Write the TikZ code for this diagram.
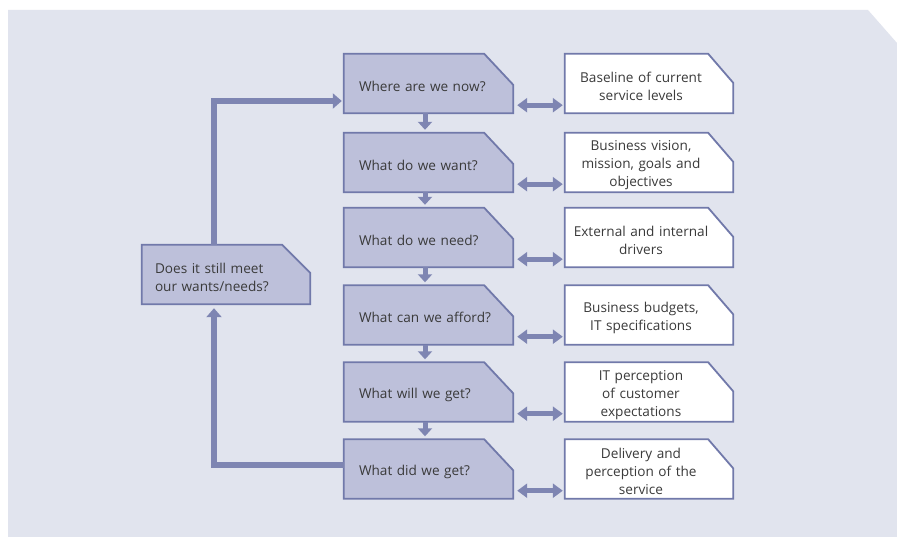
\documentclass[tikz,border=0pt]{standalone}
\usepackage{fontspec}
\setmainfont{Open Sans}
\usetikzlibrary{arrows.meta,backgrounds,calc}

\definecolor{panel}{HTML}{E1E4EE}
\definecolor{boxfill}{HTML}{BDC0DA}
\definecolor{boxedge}{HTML}{7179AA}
\definecolor{flowcol}{HTML}{7E85B2}
\definecolor{shade}{HTML}{C9CCDE}
\definecolor{ink}{HTML}{3A3A3A}

% outline of a box with its top right corner cut off
% #1 node, #2 extra width on the right, #3 cut width, #4 cut height
\newcommand\cutoutline[4]{(#1.south west) -- (#1.north west)
  -- ($(#1.north east)+(#2-#3,0)$) -- ($(#1.north east)+(#2,#4)$)
  -- ($(#1.south east)+(#2,0)$) -- cycle}
% shadow plus framed, filled box
\newcommand\cutbox[5]{%
  \fill[shade,shift={(2,2)}] \cutoutline{#1}{#3}{#4}{#5};
  \draw[frame,fill=#2] \cutoutline{#1}{#3}{#4}{#5};}

\begin{document}
\begin{tikzpicture}[x=1pt,y=-1pt,
  every node/.style={font=\fontsize{13.6}{18}\selectfont, text=ink,
    execute at begin node={\rule{0pt}{16pt}}},
  stage/.style={inner xsep=15pt, inner ysep=0pt, text width=139pt,
    align=left, minimum height=59pt},
  source/.style={inner xsep=0pt, inner ysep=0pt, text width=152pt,
    align=center, minimum height=59pt},
  check/.style={inner xsep=13pt, inner ysep=0pt, text width=142pt,
    align=left, minimum height=59pt},
  frame/.style={draw=boxedge, line width=1.8pt, line join=miter},
  loopline/.style={draw=flowcol, line width=6pt,
    -{Triangle[width=15pt,length=9pt]}},
  down/.style={draw=flowcol, line width=5pt,
    -{Triangle[width=14pt,length=8pt]}, shorten >=3pt},
  link/.style={draw=flowcol, line width=5pt,
    {Triangle[width=14pt,length=10pt]}-{Triangle[width=14pt,length=10pt]},
    shorten <=4pt, shorten >=2pt}
]
\useasboundingbox (0,0) rectangle (897,537);

% questions asked in turn
\node[stage] (b1) at (428.5,83.5)  {Where are we now?};
\node[stage] (b2) at (428.5,162.5) {What do we want?};
\node[stage] (b3) at (428.5,237.5) {What do we need?};
\node[stage] (b4) at (428.5,315)   {What can we afford?};
\node[stage] (b5) at (428.5,392)   {What will we get?};
\node[stage] (b6) at (428.5,469)   {What did we get?};

% where each answer comes from
\node[source] (r1) at (641,83.5)  {Baseline of current\\service levels};
\node[source] (r2) at (641,162.5) {Business vision,\\mission, goals and\\objectives};
\node[source] (r3) at (641,237.5) {External and internal\\drivers};
\node[source] (r4) at (641,315)   {Business budgets,\\IT specifications};
\node[source] (r5) at (641,392)   {IT perception\\of customer\\expectations};
\node[source] (r6) at (641,469)   {Delivery and\\perception of the\\service};

% review step closing the loop
\node[check] (bd) at (226,274.5) {Does it still meet\\our wants/needs?};

\begin{pgfonlayer}{background}
  \fill[white] (0,0) rectangle (897,537);
  \fill[panel] (8,10) -- (868,10) -- (897,43) -- (897,537) -- (8,537) -- cycle;
  \foreach \n in {b1,b2,b3,b4,b5,b6}{\cutbox{\n}{boxfill}{0}{29}{31}}
  \foreach \n in {r1,r2,r3,r4,r5,r6}{\cutbox{\n}{white}{16}{25}{29}}
  \cutbox{bd}{boxfill}{0}{28}{28}
\end{pgfonlayer}

% downward steps
\foreach \a/\b in {b1/b2,b2/b3,b3/b4,b4/b5,b5/b6}
  \draw[down] ([xshift=-3.5pt]\a.south) -- ([xshift=-3.5pt]\b.north);

% two-way links to the sources
\foreach \i in {1,...,6}
  \draw[link] ($(b\i.south east)+(0,-8)$) -- ($(r\i.south west)+(0,-8)$);

% feedback loop
\coordinate (loopx) at (214,0);
\draw[loopline, shorten >=2pt] (bd.north -| loopx) |- ($(b1.west)+(0,17.5)$);
\draw[loopline, shorten >=4pt] ($(b6.west)+(0,-4)$) -| (bd.south -| loopx);
\end{tikzpicture}
\end{document}
